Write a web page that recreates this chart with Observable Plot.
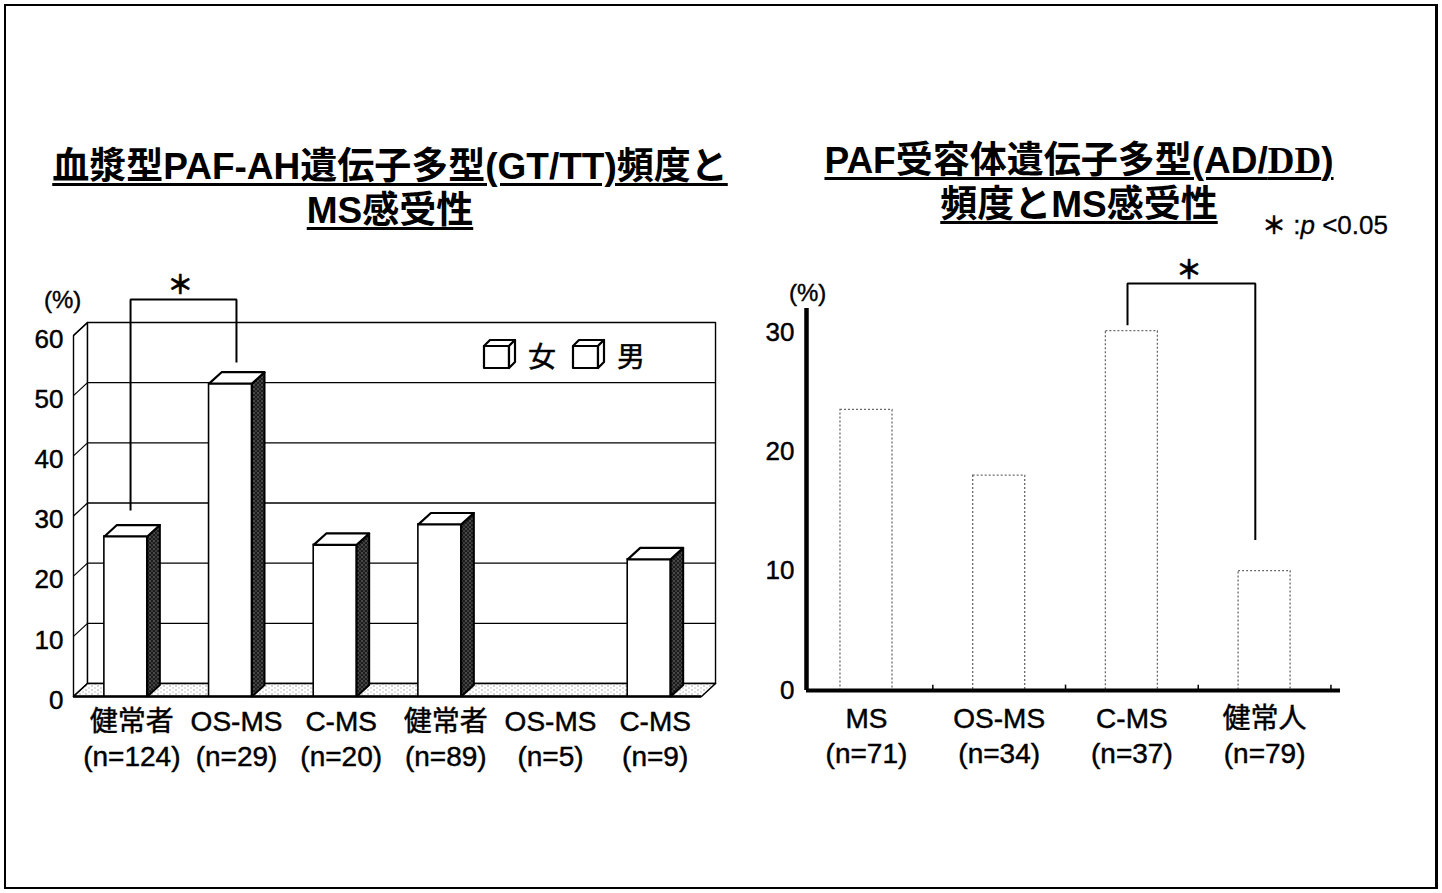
<!DOCTYPE html>
<html lang="ja">
<head>
<meta charset="utf-8">
<script src="https://cdn.jsdelivr.net/npm/d3@7"></script>
<script src="https://cdn.jsdelivr.net/npm/@observablehq/plot@0.6"></script>
<style>
  body { margin: 0; background: #fff; }
  #page {
    position: relative; width: 1442px; height: 893px; overflow: hidden; background: #fff; color: #000;
    font-family: "Liberation Sans", "Noto Sans CJK JP", sans-serif;
  }
  .frame {
    position: absolute; left: 4px; top: 4px; width: 1429px; height: 881px;
    border: 2px solid #000; border-right-width: 3px;
  }
  .title {
    position: absolute; font-weight: bold; font-size: 37px; line-height: 44px;
    text-align: center; white-space: nowrap;
    text-decoration: underline; text-decoration-thickness: 3px; text-underline-offset: 4px;
  }
  .serif { font-family: "Liberation Serif", "Noto Serif CJK JP", serif; }
  .unit { position: absolute; font-size: 24px; -webkit-text-stroke: 0.4px #000; }
  .note { position: absolute; font-size: 26px; white-space: nowrap; -webkit-text-stroke: 0.3px #000; }
  .chart { position: absolute; top: 0; }
  .chart svg { display: block; overflow: visible; }
  .chart svg text { stroke: #000; stroke-width: 0.45px; }
  .legend { position: absolute; left: 482px; top: 335px; }
</style>
</head>
<body>
<!-- fill patterns used by the pseudo-3D columns -->
<svg width="0" height="0" style="position:absolute">
  <defs>
    <pattern id="side-stipple" width="4" height="4" patternUnits="userSpaceOnUse">
      <rect width="4" height="4" fill="#1c1c1c"/>
      <rect x="1" y="0" width="1" height="1" fill="#d0d0d0"/>
      <rect x="3" y="2" width="1" height="1" fill="#a0a0a0"/>
    </pattern>
    <pattern id="floor-stipple" width="6" height="4" patternUnits="userSpaceOnUse">
      <rect width="6" height="4" fill="#fff"/>
      <rect x="1" y="1" width="1" height="1" fill="#555"/>
      <rect x="4" y="3" width="1" height="1" fill="#888"/>
    </pattern>
  </defs>
</svg>

<div id="page">
  <div class="frame"></div>

  <div class="title" style="left:10px; top:145px; width:760px;">血漿型PAF-AH遺伝子多型(GT/TT)頻度と<br>MS感受性</div>
  <div class="title" style="left:759px; top:139px; width:640px;">PAF受容体遺伝子多型(AD/<span class="serif">DD</span>)<br>頻度とMS感受性</div>
  <div class="note" style="left:1262px; top:206px;"><span style="font-family:'Noto Sans CJK JP'; font-weight:bold; font-size:24px;">＊</span> :<i>p</i> &lt;0.05</div>

  <div class="unit" style="left:44px; top:286px;">(%)</div>
  <div class="unit" style="left:789px; top:279px;">(%)</div>

  <div class="chart" id="left" style="left:0px;"></div>
  <div class="chart" id="right" style="left:760px;"></div>

  <svg class="legend" width="180" height="40">
    <g fill="#fff" stroke="#000" stroke-width="2.2" stroke-linejoin="round">
      <rect x="2" y="11" width="25" height="22"/>
      <polygon points="2,11 27,11 33,5 8,5"/>
      <polygon points="27,11 33,5 33,27 27,33"/>
      <rect x="91" y="11" width="25" height="22"/>
      <polygon points="91,11 116,11 122,5 97,5"/>
      <polygon points="116,11 122,5 122,27 116,33"/>
    </g>
    <g font-size="28" font-family="Noto Sans CJK JP" stroke="#000" stroke-width="0.5">
      <text x="46" y="32">女</text>
      <text x="135" y="32">男</text>
    </g>
  </svg>
</div>

<script>
// ---- GT/TT frequency of plasma PAF-AH polymorphism, by group and sex ----
const groups   = ["健常者", "OS-MS", "C-MS", "健常者", "OS-MS", "C-MS"];
const groupN   = ["n=124", "n=29", "n=20", "n=89", "n=5", "n=9"];
const groupSex = ["女", "女", "女", "男", "男", "男"];
const gtttPct  = [26.6, 52.0, 25.2, 28.6, 0, 22.8];
const yTicksLeft = [0, 10, 20, 30, 40, 50, 60];
const sigLeft = [0, 1];   // pair marked significant

// ---- AD/DD frequency of PAF receptor polymorphism ----
const rGroups = ["MS", "OS-MS", "C-MS", "健常人"];
const rGroupN = ["n=71", "n=34", "n=37", "n=79"];
const adddPct = [23.5, 18.0, 30.1, 10.0];
const yTicksRight = [0, 10, 20, 30];
const sigRight = [2, 3];

const numFont = "'Liberation Sans', sans-serif";
const labelFont = "'Liberation Sans', 'Noto Sans CJK JP', sans-serif";

// polygon helper: closed ring of {id, x, y} points for Plot.line
const ring = (id, pts) => [...pts, pts[0]].map(([x, y]) => ({id, x, y}));

// ---------------- left: pseudo-3D column chart ----------------
{
  const n = groups.length;
  const X0 = -0.5, X1 = n - 0.5, YMAX = 60;
  const DX = 0.134, DY = 2.16;   // depth of walls and floor (data units)
  const BDX = 0.12, BDY = 1.9;   // depth of each column
  const BW = 0.205;              // half width of a column

  const rows = groups.map((g, i) => ({i, g, sex: groupSex[i], v: gtttPct[i]})).filter(d => d.v > 0);

  const leftWall = ring("lw", [[X0, 0], [X0, YMAX], [X0 + DX, YMAX + DY], [X0 + DX, DY]]);
  const backWall = ring("bw", [[X0 + DX, DY], [X0 + DX, YMAX + DY], [X1 + DX, YMAX + DY], [X1 + DX, DY]]);
  const floor = ring("fl", [[X0, 0], [X1, 0], [X1 + DX, DY], [X0 + DX, DY]]);

  const sides = rows.flatMap(d => ring("s" + d.i, [
    [d.i + BW, 0], [d.i + BW, d.v], [d.i + BW + BDX, d.v + BDY], [d.i + BW + BDX, BDY]]));
  const tops = rows.flatMap(d => ring("t" + d.i, [
    [d.i - BW, d.v], [d.i + BW, d.v], [d.i + BW + BDX, d.v + BDY], [d.i - BW + BDX, d.v + BDY]]));

  const [a, b] = sigLeft;
  const bracketTop = Math.max(gtttPct[a], gtttPct[b]) + 14;
  const bracket = [
    {x: a + 0.045, y: gtttPct[a] + 4.3},
    {x: a + 0.045, y: bracketTop},
    {x: b + 0.057, y: bracketTop},
    {x: b + 0.057, y: gtttPct[b] + 3.5}
  ];

  const chart = Plot.plot({
    width: 760, height: 893,
    marginLeft: 73, marginRight: 59, marginTop: 335, marginBottom: 197,
    x: {domain: [X0, X1]},
    y: {domain: [0, YMAX]},
    style: {fontFamily: labelFont, background: "transparent", overflow: "visible", color: "#000"},
    marks: [
      Plot.line(leftWall, {x: "x", y: "y", z: "id", fill: "white", stroke: "black", strokeWidth: 1.4}),
      Plot.line(backWall, {x: "x", y: "y", z: "id", fill: "white", stroke: "black", strokeWidth: 1.4}),
      // gridlines on the back wall and their continuation across the side wall
      Plot.link(yTicksLeft.slice(1, -1), {x1: X0 + DX, x2: X1 + DX, y1: v => v + DY, y2: v => v + DY, stroke: "black", strokeWidth: 1.4}),
      Plot.link(yTicksLeft, {x1: X0, x2: X0 + DX, y1: v => v, y2: v => v + DY, stroke: "black", strokeWidth: 1.2}),
      Plot.line(floor, {x: "x", y: "y", z: "id", fill: "url(#floor-stipple)", stroke: "black", strokeWidth: 1.6}),
      Plot.ruleY([0], {x1: X0, x2: X1, stroke: "black", strokeWidth: 2.5}),
      // columns: side face, front face, top face
      Plot.line(sides, {x: "x", y: "y", z: "id", fill: "url(#side-stipple)", stroke: "black", strokeWidth: 2}),
      Plot.rect(rows, {x1: d => d.i - BW, x2: d => d.i + BW, y1: 0, y2: "v", fill: "white", stroke: "black", strokeWidth: 1.6}),
      Plot.line(tops, {x: "x", y: "y", z: "id", fill: "white", stroke: "black", strokeWidth: 2.2}),
      // significance bracket
      Plot.line(bracket, {x: "x", y: "y", stroke: "black", strokeWidth: 2, strokeLinejoin: "miter", strokeLinecap: "butt"}),
      Plot.text(["＊"], {x: (a + b) / 2 + 0.02, y: bracketTop + 2.3, fontSize: 26, fontWeight: "bold", fontFamily: "Noto Sans CJK JP"}),
      Plot.axisY({ticks: yTicksLeft, tickSize: 0, tickPadding: 10, fontSize: 26, dy: 4, fontFamily: numFont}),
      Plot.axisX({ticks: d3.range(n), tickSize: 0, tickPadding: 9, fontSize: 28, lineHeight: 1.27, dx: 6,
        tickFormat: i => `${groups[i]}\n(${groupN[i]})`, label: null})
    ]
  });
  document.getElementById("left").append(chart);
}

// ---------------- right: flat column chart ----------------
{
  const n = rGroups.length;
  const XMIN = -0.452, XMAX = 3.572, YMAX = 32;
  const BW = 0.196;
  const rows = rGroups.map((g, i) => ({i, g, v: adddPct[i]}));

  const [a, b] = sigRight;
  const bracketTop = Math.max(adddPct[a], adddPct[b]) + 4;
  const bracket = [
    {x: a - 0.033, y: adddPct[a] + 0.5},
    {x: a - 0.033, y: bracketTop},
    {x: b - 0.07, y: bracketTop},
    {x: b - 0.07, y: adddPct[b] + 2.6}
  ];

  const chart = Plot.plot({
    width: 682, height: 893,
    marginLeft: 46, marginRight: 102, marginTop: 308, marginBottom: 203,
    x: {domain: [XMIN, XMAX]},
    y: {domain: [0, YMAX]},
    style: {fontFamily: labelFont, background: "transparent", overflow: "visible", color: "#000"},
    marks: [
      Plot.rect(rows, {x1: d => d.i - BW, x2: d => d.i + BW, y1: 0, y2: "v", fill: "white",
        stroke: "#6a6a6a", strokeWidth: 1.3, strokeDasharray: "2,2"}),
      Plot.ruleX(d3.range(n).map(i => i + 0.5), {y1: 0, y2: 0.45, stroke: "black", strokeWidth: 1.5}),
      Plot.ruleY([0], {x1: XMIN, x2: XMAX, stroke: "black", strokeWidth: 4}),
      Plot.ruleX([XMIN], {y1: 0, y2: YMAX, stroke: "black", strokeWidth: 4.5}),
      Plot.line(bracket, {x: "x", y: "y", stroke: "black", strokeWidth: 2, strokeLinejoin: "miter", strokeLinecap: "butt"}),
      Plot.text(["＊"], {x: (a + b) / 2 - 0.07, y: bracketTop + 1.1, fontSize: 26, fontWeight: "bold", fontFamily: "Noto Sans CJK JP"}),
      Plot.axisY({ticks: yTicksRight, tickSize: 0, tickPadding: 12, fontSize: 26, fontFamily: numFont}),
      Plot.axisX({ticks: d3.range(n), tickSize: 0, tickPadding: 12, fontSize: 28, lineHeight: 1.27,
        tickFormat: i => `${rGroups[i]}\n(${rGroupN[i]})`, label: null})
    ]
  });
  document.getElementById("right").append(chart);
}
</script>
</body>
</html>
